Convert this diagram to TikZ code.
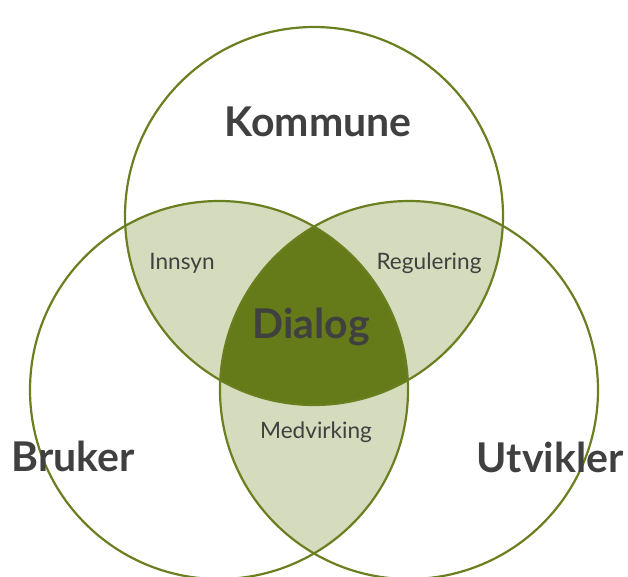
\documentclass[tikz,border=0pt]{standalone}
\usepackage{fontspec}
\setmainfont{Lato}
\definecolor{lightg}{HTML}{D4DCBD}
\definecolor{darkg}{HTML}{657B1A}
\definecolor{lineg}{HTML}{6A7F1F}
\definecolor{txt}{HTML}{404040}
\tikzset{
  big/.style={font=\fontsize{41}{44}\selectfont\bfseries, text=txt, inner sep=0pt},
  small/.style={font=\fontsize{22.6}{25}\selectfont, text=txt, inner sep=0pt},
  ring/.style={draw=lineg, line width=2.2pt},
}
\begin{document}
\begin{tikzpicture}[x=1pt,y=-1pt]
\useasboundingbox (0,0) rectangle (628,576);
\coordinate (ct) at (314,216);
\coordinate (cl) at (219,390);
\coordinate (cr) at (409,390);
% lenses
\begin{scope}\clip (ct) circle (189pt); \fill[lightg] (cl) circle (189pt); \end{scope}
\begin{scope}\clip (ct) circle (189pt); \fill[lightg] (cr) circle (189pt); \end{scope}
\begin{scope}\clip (cl) circle (189pt); \fill[lightg] (cr) circle (189pt); \end{scope}
\begin{scope}\clip (ct) circle (189pt); \clip (cl) circle (189pt); \fill[darkg] (cr) circle (189pt); \end{scope}
% outlines
\draw[ring] (ct) circle (189pt);
\draw[ring] (cl) circle (189pt);
\draw[ring] (cr) circle (189pt);
% dialog over lines
\begin{scope}\clip (ct) circle (188pt); \clip (cl) circle (188pt); \fill[darkg] (cr) circle (188pt); \end{scope}
% labels
\node[big] (kommune) at (318,122) {Kommune};
\node[big] (bruker) at (73,456) {Bruker};
\node[big] (utvikler) at (550,457) {Utvikler};
\node[big] (dialog) at (311,327) {Dialog};
\node[small] (innsyn) at (182,263) {Innsyn};
\node[small] (regulering) at (429,263) {Regulering};
\node[small] (medvirking) at (316,432) {Medvirking};
\end{tikzpicture}
\end{document}
